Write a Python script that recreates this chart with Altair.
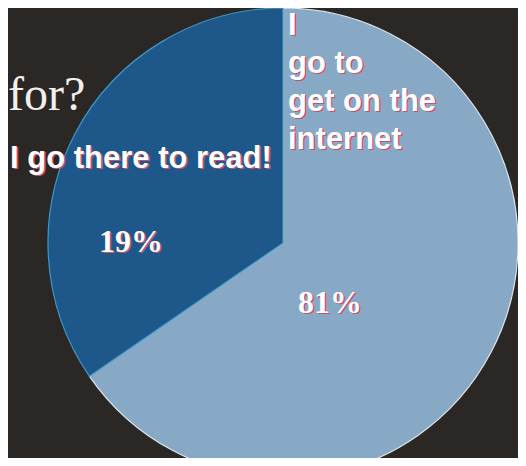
import math
import altair as alt
import pandas as pd

# ---- data ----
categories = ["I go to get on the internet", "I go there to read!"]
label_lines = [["I", "go to", "get on the", "internet"], ["I go there to read!"]]
pct_labels = ["81%", "19%"]
drawn_share = [65.4, 34.6]      # slice sizes as they are drawn
slice_order = [1, 2]
heading = ["for?"]

slice_colors = ["#87a9c6", "#1e578a"]
edge_colors = ["#dbe5ee", "#3f98c4"]
BG = "#2b2725"
SHADOW = "#c8506a"

df = pd.DataFrame({
    "category": categories,
    "lines": label_lines,
    "pct": pct_labels,
    "share": drawn_share,
    "order": slice_order,
})

CX, CY, R = 275, 235, 235

total = sum(drawn_share)
mids = []
acc = 0.0
for s in drawn_share:
    mids.append((acc + s / 2) / total * 360.0)
    acc += s


def off(target_deg, i):
    return math.radians((target_deg - mids[i]) % 360.0)


base = alt.Chart(df).encode(
    theta=alt.Theta("share:Q", stack=True),
    order=alt.Order("order:Q"),
    x=alt.value(CX),
    y=alt.value(CY),
)

arcs = base.mark_arc(radius=R, strokeWidth=1.2).encode(
    color=alt.Color("category:N", scale=alt.Scale(domain=categories, range=slice_colors), legend=None),
    stroke=alt.Stroke("category:N", scale=alt.Scale(domain=categories, range=edge_colors), legend=None),
)


def label(i, field, target_deg, r, align, size=31, line_height=38,
          font="Liberation Sans"):
    layers = []
    expr = f"datum.order == {slice_order[i]} ? datum.{field} : ''"
    for col, d in ((SHADOW, 1.4), ("#ffffff", 0)):
        layers.append(
            base.transform_calculate(t=expr).mark_text(
                radius=r,
                thetaOffset=off(target_deg, i),
                align=align,
                baseline="alphabetic",
                font=font,
                fontWeight="bold",
                fontSize=size,
                lineHeight=line_height,
                color=col,
                dx=d,
                dy=d,
            ).encode(text=alt.Text("t:N"))
        )
    return layers


layers = [arcs]
# category label of the light slice (top right, left aligned)
layers += label(0, "lines", 1.38, 208.1, "left")
# category label of the dark slice
layers += label(1, "lines", 285.36, 283.1, "left")
# percentages
layers += label(0, "pct", 146.1, 84.3, "center", size=32, font="Liberation Serif")
layers += label(1, "pct", 266.6, 152.3, "center", size=32, font="Liberation Serif")

head = alt.Chart(pd.DataFrame({"t": heading})).mark_text(
    align="left", baseline="alphabetic", font="Liberation Serif",
    fontSize=48, color="#f2f0ee",
).encode(text="t:N", x=alt.value(0), y=alt.value(102))
layers.append(head)

chart = alt.layer(*layers).properties(
    width=510, height=450, autosize="none", padding=0, background=BG,
).configure_view(stroke=None)

chart.save("out.html", embed_options={"renderer": "svg", "actions": False})
